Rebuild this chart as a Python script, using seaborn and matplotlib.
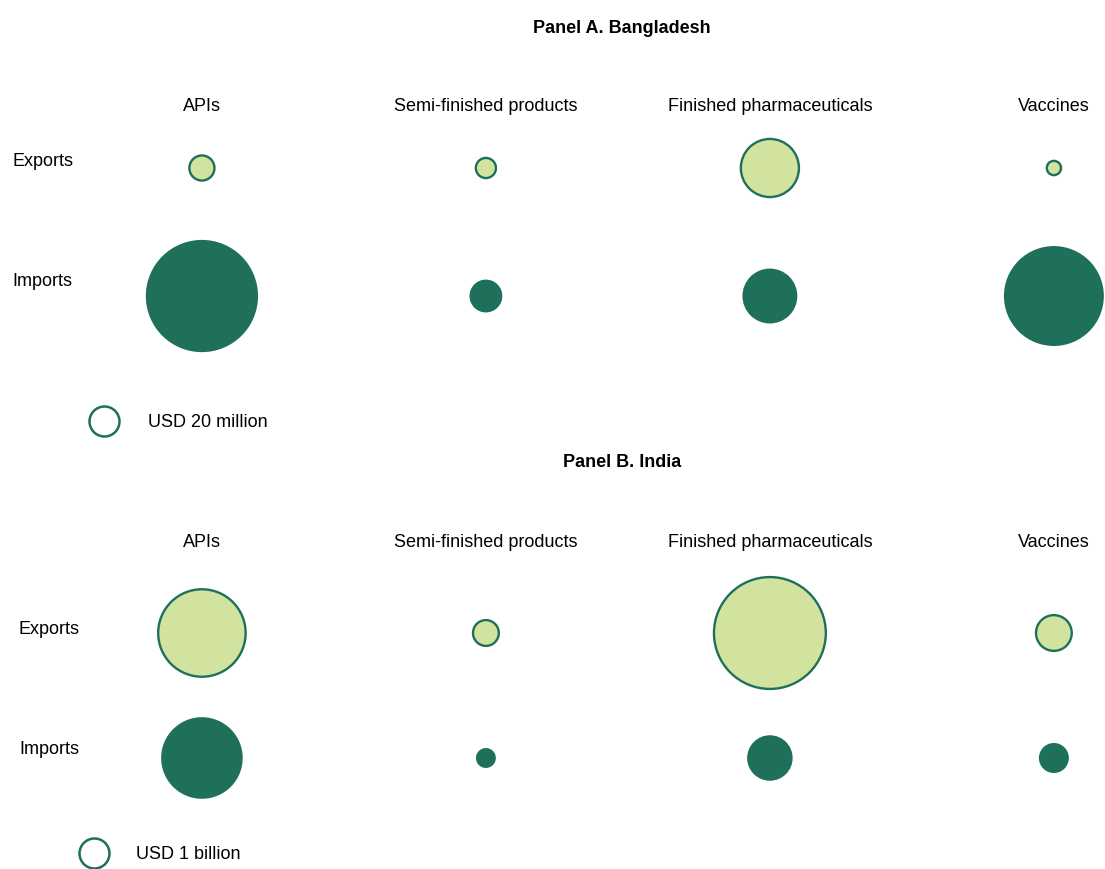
import numpy as np
import pandas as pd
import matplotlib
matplotlib.use("Agg")
import matplotlib.pyplot as plt
import matplotlib.transforms as mtransforms
import seaborn as sns

# Product groups and trade flows
categories = ["APIs", "Semi-finished products", "Finished pharmaceuticals", "Vaccines"]
flows = ["Exports", "Imports"]

# Panel A: Bangladesh, USD million
bgd_exports = [14, 9, 75, 4.5]
bgd_imports = [280, 24, 67, 222]
bgd_ref_value = 20
bgd_ref_label = "USD 20 million"

# Panel B: India, USD billion
ind_exports = [8.5, 0.74, 13.9, 1.42]
ind_imports = [7.4, 0.44, 2.3, 1.0]
ind_ref_value = 1
ind_ref_label = "USD 1 billion"

DARK = "#1F705B"
LIGHT = "#D1E39E"
TEXT = "#000000"
W, H, DPI = 1105, 869, 100
FS = 13

sns.set_theme(style="white")
plt.rcParams["font.family"] = ["Liberation Sans", "DejaVu Sans"]

fig = plt.figure(figsize=(W / DPI, H / DPI), dpi=DPI)
fig.patch.set_facecolor("white")

# full-figure overlay in pixel units for titles, row labels and the size key
lay = fig.add_axes([0, 0, 1, 1])
lay.set_xlim(0, W)
lay.set_ylim(H, 0)
lay.axis("off")
lay.patch.set_alpha(0)


def marker_area(diam_px):
    """Scatter marker area (pt^2) for a circle of the given pixel diameter."""
    return (diam_px * 72.0 / DPI) ** 2


REF_DIAM = 30.0  # pixel diameter of the reference bubble


def draw_panel(top, bottom, ylim, exports, imports, ref_value, ref_label,
               title, title_y, header_y, label_x, label_ys, key_xy, key_text_x):
    ax = fig.add_axes([0, 1 - bottom / H, 1, (bottom - top) / H])
    ax.patch.set_alpha(0)

    df = pd.DataFrame({
        "category": categories * 2,
        "flow": [flows[0]] * len(categories) + [flows[1]] * len(categories),
        "value": list(exports) + list(imports),
    })
    df["row"] = df["flow"].map({f: i for i, f in enumerate(flows)})

    vmax = df["value"].max()
    smax = marker_area(REF_DIAM) * vmax / ref_value  # area proportional to value

    exp = df[df["flow"] == "Exports"]
    imp = df[df["flow"] == "Imports"]
    sns.scatterplot(data=exp, x="category", y="row", size="value",
                    sizes=(0, smax), size_norm=(0, vmax), color=LIGHT,
                    edgecolor=DARK, linewidth=1.7, legend=False, ax=ax, zorder=3)
    sns.scatterplot(data=imp, x="category", y="row", size="value",
                    sizes=(0, smax), size_norm=(0, vmax), color=DARK,
                    edgecolor="none", linewidth=0, legend=False, ax=ax, zorder=3)

    ax.set_xlim(-0.711, 3.18)
    ax.set_ylim(*ylim)
    ax.set_xlabel("")
    ax.set_ylabel("")
    ax.set_xticks([])
    ax.set_yticks([])
    for s in ax.spines.values():
        s.set_visible(False)

    # column headers above each bubble column
    hdr = mtransforms.blended_transform_factory(ax.transData, lay.transData)
    for i, c in enumerate(categories):
        ax.text(i, header_y, c, transform=hdr, ha="center", va="baseline",
                fontsize=FS, color=TEXT)

    # row labels
    for f, y in zip(flows, label_ys):
        lay.text(label_x, y, f, ha="left", va="baseline", fontsize=FS, color=TEXT)

    # panel title
    lay.text(622, title_y, title, ha="center", va="baseline", fontsize=FS,
             fontweight="bold", color=TEXT)

    # size key
    lay.scatter([key_xy[0]], [key_xy[1]], s=marker_area(REF_DIAM), facecolor="white",
                edgecolor=DARK, linewidth=1.8, zorder=3)
    lay.text(key_text_x, key_xy[1] + 6, ref_label, ha="left", va="baseline",
             fontsize=FS, color=TEXT)
    return ax


draw_panel(top=120, bottom=380, ylim=(1.656, -0.375),
           exports=bgd_exports, imports=bgd_imports,
           ref_value=bgd_ref_value, ref_label=bgd_ref_label,
           title="Panel A. Bangladesh", title_y=33, header_y=111,
           label_x=12, label_ys=(166, 286), key_xy=(104, 421), key_text_x=148)

draw_panel(top=555, bottom=820, ylim=(1.496, -0.624),
           exports=ind_exports, imports=ind_imports,
           ref_value=ind_ref_value, ref_label=ind_ref_label,
           title="Panel B. India", title_y=467, header_y=547,
           label_x=19, label_ys=(634, 754), key_xy=(94, 853), key_text_x=136)

fig.savefig("out.png", dpi=DPI, facecolor="white")
